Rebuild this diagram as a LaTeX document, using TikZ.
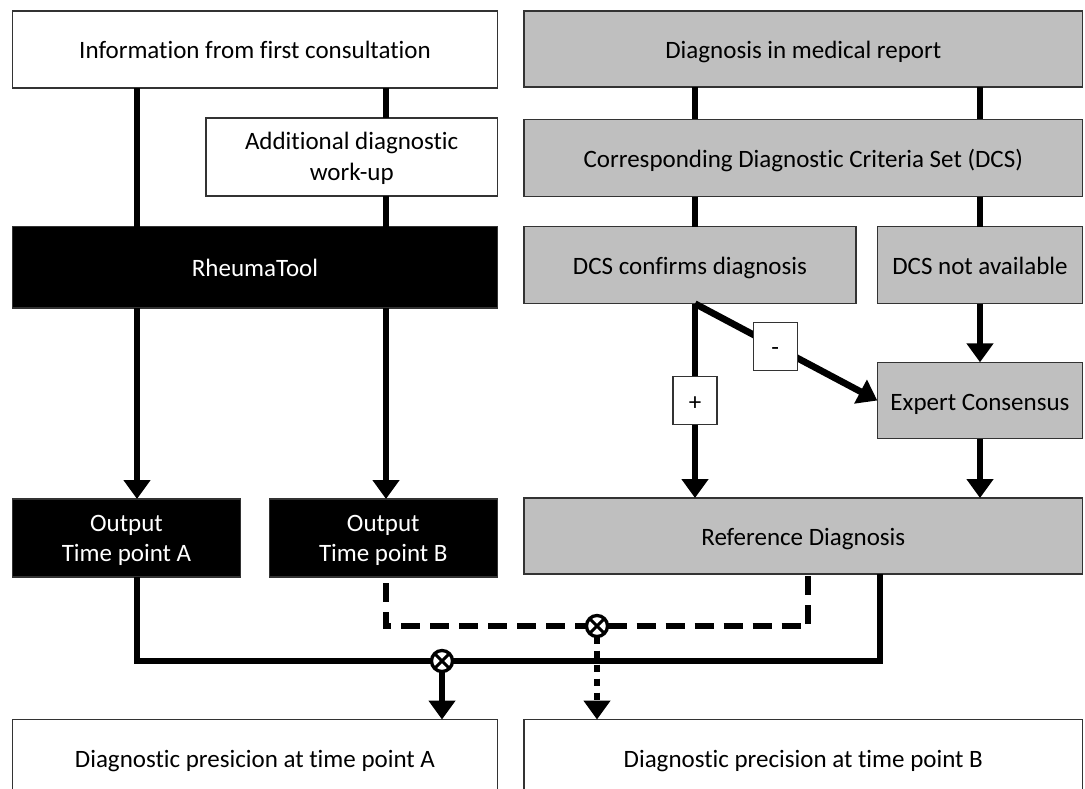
\documentclass[tikz,border=0pt]{standalone}
\usepackage{fontspec}
\setmainfont{Carlito}[Ligatures=NoCommon]
\usetikzlibrary{arrows.meta}

\begin{document}
\begin{tikzpicture}[x=1pt, y=-1pt,
    box/.style={draw=black!80, line width=1.2pt, inner sep=0pt, outer sep=0pt, align=center,
        font=\fontsize{25}{30.5}\selectfont, text height=25pt, text depth=6pt},
    two/.style={text height=52pt, text depth=5pt},
    wbox/.style={box, fill=white},
    gbox/.style={box, fill=black!25},
    bbox/.style={box, fill=black, text=white},
    sign/.style={wbox, minimum width=44pt, minimum height=48pt},
    conn/.style={line width=6.7pt},
    arr/.style={conn, -{Triangle[length=19pt, width=26pt]}},
    dashconn/.style={conn, dash pattern=on 19pt off 10pt},
    dotconn/.style={arr, dash pattern=on 7pt off 7pt},
    xcirc/.style={circle, draw, fill=white, line width=3.3pt, minimum size=21pt, inner sep=0pt, outer sep=0pt,
        path picture={\draw[line width=3pt] (path picture bounding box.north west) -- (path picture bounding box.south east)
            (path picture bounding box.north east) -- (path picture bounding box.south west);}}]
    \useasboundingbox (0,0) rectangle (1085,789);
    \clip (0,0) rectangle (1085,789);

    \coordinate (ca) at (137,0);
    \coordinate (cb) at (386,0);
    \coordinate (cc) at (695,0);
    \coordinate (cd) at (980,0);
    \coordinate (ce) at (880,0);
    \coordinate (cf) at (808,0);

    \node[wbox, minimum width=484.6pt, minimum height=77pt] (info) at (255,49.5) {Information from first consultation};
    \node[gbox, minimum width=558.7pt, minimum height=76pt] (report) at (803.3,49) {Diagnosis in medical report};
    \node[wbox, two, minimum width=291.3pt, minimum height=78pt] (add) at (351.7,157) {Additional diagnostic\\work-up};
    \node[gbox, minimum width=558.7pt, minimum height=77.4pt] (dcs) at (803.3,158) {Corresponding Diagnostic Criteria Set (DCS)};
    \node[bbox, minimum width=484.8pt, minimum height=81.3pt] (rheuma) at (255,267.3) {RheumaTool};
    \node[gbox, minimum width=332pt, minimum height=77pt] (conf) at (690,265.2) {DCS confirms diagnosis};
    \node[gbox, minimum width=205.4pt, minimum height=77pt] (nodcs) at (980,265.2) {DCS not available};
    \node[gbox, minimum width=205.4pt, minimum height=76.4pt] (expert) at (980,400.5) {Expert Consensus};
    \node[bbox, two, minimum width=228.4pt, minimum height=78pt] (outa) at (126.5,538) {Output\\Time point A};
    \node[bbox, two, minimum width=228pt, minimum height=78pt] (outb) at (383.3,538) {Output\\Time point B};
    \node[gbox, minimum width=558.7pt, minimum height=76pt] (ref) at (803.3,536) {Reference Diagnosis};
    \node[wbox, minimum width=484.8pt, minimum height=77pt] (preca) at (255,758) {Diagnostic presicion at time point A};
    \node[wbox, minimum width=558.7pt, minimum height=77pt] (precb) at (803.3,758) {Diagnostic precision at time point B};

    \node[xcirc] (xa) at (442,661) {};
    \node[xcirc] (xb) at (597,626) {};

    \draw[conn] (ca |- info.south) -- (ca |- rheuma.north);
    \draw[conn] (cb |- info.south) -- (cb |- add.north);
    \draw[conn] (cb |- add.south) -- (cb |- rheuma.north);
    \draw[conn] (cc |- report.south) -- (cc |- dcs.north);
    \draw[conn] (cd |- report.south) -- (cd |- dcs.north);
    \draw[conn] (cc |- dcs.south) -- (cc |- conf.north);
    \draw[conn] (cd |- dcs.south) -- (cd |- nodcs.north);

    \draw[arr] (ca |- rheuma.south) -- (ca |- outa.north);
    \draw[arr] (cb |- rheuma.south) -- (cb |- outb.north);
    \draw[arr] (cc |- conf.south) -- node[sign] (plus) {+} (cc |- ref.north);
    \draw[arr] (cc |- conf.south) -- node[sign, pos=0.44] (minus) {-} (expert.west);
    \draw[arr] (cd |- nodcs.south) -- (cd |- expert.north);
    \draw[arr] (cd |- expert.south) -- (cd |- ref.north);

    \draw[conn] (ca |- outa.south) |- (xa.west);
    \draw[conn] (xa.east) -| (ce |- ref.south);
    \draw[arr] (xa.south) -- (xa.south |- preca.north);

    \draw[dashconn, dash phase=23pt] (cb |- outb.south) |- (xb.west);
    \draw[dashconn] (xb.east) -| (cf |- ref.south);
    \draw[dotconn] (xb.south) -- (xb.south |- precb.north);
\end{tikzpicture}
\end{document}
